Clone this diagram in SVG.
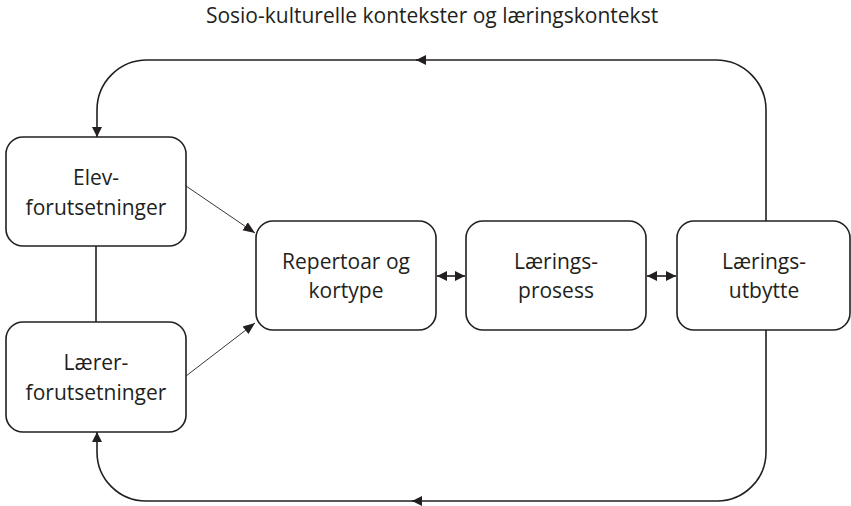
<svg xmlns="http://www.w3.org/2000/svg" width="851" height="506" viewBox="0 0 851 506">
<defs>
<style>
.box{fill:#fff;stroke:#231f20;stroke-width:1.6}
.t{font-family:"Open Sans","Liberation Sans",sans-serif;font-size:21px;fill:#231f20;text-anchor:middle}
.c{fill:none;stroke:#231f20;stroke-width:1.6}
.thin{fill:none;stroke:#231f20;stroke-width:0.9}
</style>
<marker id="ah" viewBox="0 0 10 10" refX="10" refY="5" markerWidth="10" markerHeight="10" markerUnits="userSpaceOnUse" orient="auto-start-reverse"><path d="M0,0 L10,5 L0,10 z" fill="#231f20"/></marker>
<marker id="ahs" viewBox="0 0 10 10" refX="10" refY="5" markerWidth="12" markerHeight="12" markerUnits="userSpaceOnUse" orient="auto"><path d="M0,1 L10,5 L0,9 z" fill="#231f20"/></marker>
</defs>
<rect width="851" height="506" fill="#fff"/>
<text class="t" x="432" y="23">Sosio-kulturelle kontekster og læringskontekst</text>
<g id="connectors">
<path class="c" d="M766,221 V110 A50,50 0 0 0 716,60 H418"/>
<path class="c" d="M420,60 H147 A50,50 0 0 0 97,110 V137" marker-end="url(#ah)"/>
<path class="c" d="M418,60 H416" marker-end="url(#ah)"/>
<path class="c" d="M766,330 V452 A49,49 0 0 1 717,501 H414"/>
<path class="c" d="M416,501 H146 A49,49 0 0 1 97,452 V432" marker-end="url(#ah)"/>
<path class="c" d="M414,501 H412" marker-end="url(#ah)"/>
<line class="c" x1="96" y1="246" x2="96" y2="322"/>
<line class="thin" x1="186" y1="186" x2="255" y2="233" marker-end="url(#ahs)"/>
<line class="thin" x1="186" y1="376" x2="255" y2="323" marker-end="url(#ahs)"/>
<line class="c" x1="437" y1="276" x2="465" y2="276" marker-start="url(#ah)" marker-end="url(#ah)"/>
<line class="c" x1="647" y1="276" x2="676" y2="276" marker-start="url(#ah)" marker-end="url(#ah)"/>
</g>
<g id="elev">
<rect class="box" x="6" y="137" width="180" height="109" rx="17"/>
<text class="t" x="96" y="185">Elev-</text>
<text class="t" x="96" y="215">forutsetninger</text>
</g>
<g id="larer">
<rect class="box" x="6" y="322" width="180" height="110" rx="17"/>
<text class="t" x="96" y="370">Lærer-</text>
<text class="t" x="96" y="400">forutsetninger</text>
</g>
<g id="repertoar">
<rect class="box" x="256" y="221" width="180" height="109" rx="17"/>
<text class="t" x="346" y="269">Repertoar og</text>
<text class="t" x="346" y="298">kortype</text>
</g>
<g id="prosess">
<rect class="box" x="466" y="221" width="180" height="109" rx="17"/>
<text class="t" x="556" y="269">Lærings-</text>
<text class="t" x="556" y="298">prosess</text>
</g>
<g id="utbytte">
<rect class="box" x="677" y="221" width="173" height="109" rx="17"/>
<text class="t" x="764" y="269">Lærings-</text>
<text class="t" x="764" y="298">utbytte</text>
</g>
</svg>
